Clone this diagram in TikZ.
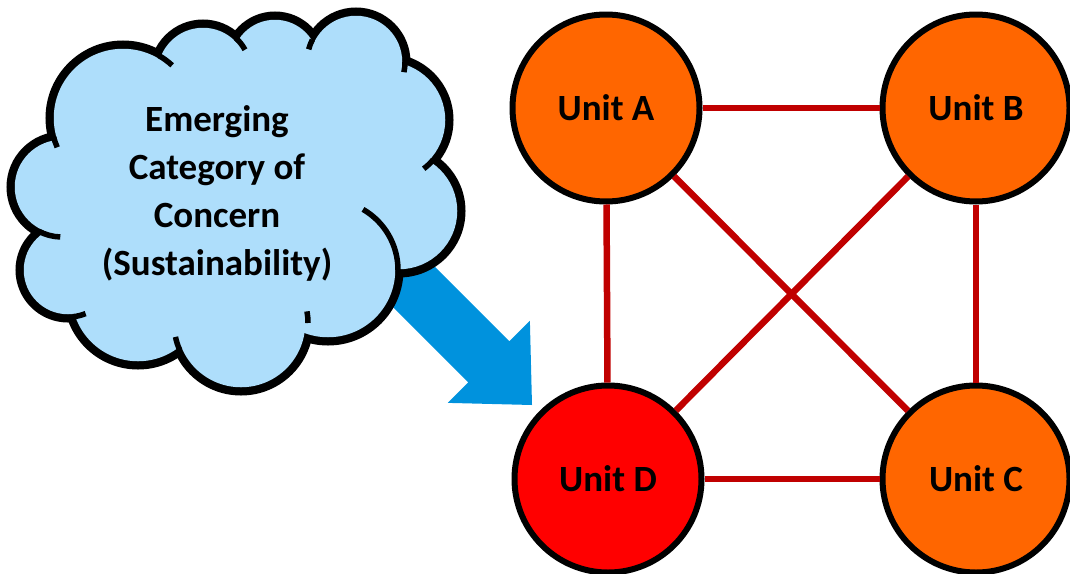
\documentclass[tikz,border=0pt]{standalone}
\usepackage{fontspec}
\setmainfont{Carlito}
\usetikzlibrary{calc}
\definecolor{cloudblue}{RGB}{174,222,251}
\definecolor{arrowblue}{RGB}{0,146,221}
\definecolor{unitorange}{RGB}{255,102,0}
\definecolor{unitred}{RGB}{255,0,0}
\definecolor{linkred}{RGB}{192,0,0}
\begin{document}
\begin{tikzpicture}[x=1pt,y=-1pt,
  unit/.style={circle, draw=black, line width=6pt, minimum size=187pt,
    inner sep=0pt, fill=unitorange, font=\fontsize{37}{44}\selectfont\bfseries},
  link/.style={draw=linkred, line width=6.5pt},
  lobeedge/.style={draw=black, line width=11pt},
  hookline/.style={draw=black, line width=5.5pt},
  label/.style={font=\fontsize{37}{48}\selectfont\bfseries, align=center}]
\useasboundingbox (0,0) rectangle (1070,573);

% block arrow from the cloud towards Unit D
\coordinate (arrowtail) at (360,233);
\coordinate (arrowtip) at (532,405);
\coordinate (arrowbase) at ($(arrowtip)!61pt!(arrowtail)$);
\fill[arrowblue]
  ($(arrowtail)!29pt!90:(arrowtip)$) --
  ($(arrowbase)!29pt!90:(arrowtip)$) --
  ($(arrowbase)!58pt!90:(arrowtip)$) --
  (arrowtip) --
  ($(arrowbase)!58pt!-90:(arrowtip)$) --
  ($(arrowbase)!29pt!-90:(arrowtip)$) --
  ($(arrowtail)!29pt!-90:(arrowtip)$) -- cycle;

% cloud: union of lobes (centre x / centre y / radius)
\def\lobes{62/187/50, 123/118/72, 203/73/48, 275/63/46, 356/62/49,
  387/120/61, 399/211/61, 328/270/70, 241/323/67, 138/295/69, 68/270/47}
\foreach \cx/\cy/\r in \lobes {\path[lobeedge] (\cx,\cy) circle[radius=\r];}
\fill[cloudblue] (62,187) -- (123,118) -- (203,73) -- (275,63) -- (356,62)
  -- (387,120) -- (399,211) -- (328,270) -- (241,323) -- (138,295)
  -- (68,270) -- cycle;
\foreach \cx/\cy/\r in \lobes {\fill[cloudblue] (\cx,\cy) circle[radius=\r-2.75];}
% inner hooks where the lobes meet
\foreach \cx/\cy/\r/\a/\b in {123/118/72/165/156, 123/118/72/-60/-47,
  203/73/48/-47/-29, 356/62/49/-153/-165, 356/62/49/0/12,
  387/120/61/41/53, 328/270/70/0/-60, 241/323/67/0/-10,
  241/323/67/156/168, 68/270/47/84/68, 62/187/50/118/92}
  {\draw[hookline] ($(\cx,\cy)+(\a:\r)$) arc[start angle=\a, end angle=\b, radius=\r];}
\node[label] (concern) at (217,193) {Emerging\\Category of\\Concern\\(Sustainability)};

% units
\node[unit] (A) at (606,108) {Unit A};
\node[unit] (B) at (976,108) {Unit B};
\node[unit] (C) at (976,479) {Unit C};
\node[unit, fill=unitred] (D) at (608,479) {Unit D};

% links between units
\draw[link] (A) -- (B);
\draw[link] (A) -- (D);
\draw[link] (B) -- (C);
\draw[link] (D) -- (C);
\draw[link] (A) -- (C);
\draw[link] (B) -- (D);
\end{tikzpicture}
\end{document}
